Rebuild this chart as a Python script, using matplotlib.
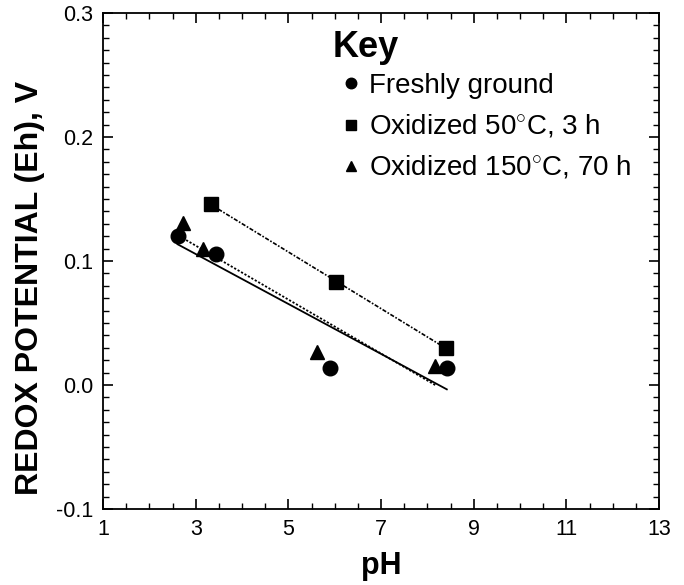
import numpy as np
import matplotlib
matplotlib.use("Agg")
import matplotlib.pyplot as plt
from matplotlib.ticker import MultipleLocator

plt.rcParams['font.family'] = ['Liberation Sans', 'DejaVu Sans']
plt.rcParams['mathtext.fontset'] = 'custom'
plt.rcParams['mathtext.rm'] = 'Liberation Sans'

# Data
fresh_ph = [2.61, 3.44, 5.90, 8.42]
fresh_eh = [0.120, 0.106, 0.014, 0.014]
ox50_ph = [3.32, 6.03, 8.40]
ox50_eh = [0.146, 0.083, 0.030]
ox150_ph = [2.72, 3.15, 5.62, 8.17]
ox150_eh = [0.131, 0.110, 0.027, 0.015]

labels = ["Freshly ground", r"Oxidized 50$^{\circ}$C, 3 h", r"Oxidized 150$^{\circ}$C, 70 h"]
xticks = [1, 3, 5, 7, 9, 11, 13]
yticks = [-0.1, 0.0, 0.1, 0.2, 0.3]

fig = plt.figure(figsize=(6.84, 5.85), dpi=100)
ax = fig.add_axes([0.1506, 0.1299, 0.8129, 0.8479])

def fit_line(xs, ys, style, lw):
    k, b = np.polyfit(xs, ys, 1)
    xx = np.array([min(xs), max(xs)])
    ax.plot(xx, k * xx + b, color='black', lw=lw, **style)

fit_line(fresh_ph, fresh_eh, dict(linestyle='-'), 1.3)
fit_line(ox150_ph, ox150_eh, dict(dashes=(1.2, 1.0)), 1.3)
fit_line(ox50_ph, ox50_eh, dict(dashes=(2.5, 1.0, 1, 1.0)), 1.2)

ax.plot(fresh_ph, fresh_eh, 'o', color='black', ms=10.5, ls='none', label=labels[0])
ax.plot(ox50_ph, ox50_eh, 's', color='black', ms=9.5, ls='none', label=labels[1])
ax.plot(ox150_ph, ox150_eh, '^', color='black', ms=10.5, ls='none', label=labels[2])

ax.set_xlim(1, 13)
ax.set_ylim(-0.1, 0.3)
ax.set_xticks(xticks)
ax.set_yticks(yticks)
ax.set_yticklabels([f"{v:.1f}" for v in yticks])
ax.xaxis.set_minor_locator(MultipleLocator(0.5))
ax.yaxis.set_minor_locator(MultipleLocator(0.01))
ax.tick_params(which='both', direction='in', top=True, right=True, labelsize=15.5, pad=7)
ax.tick_params(which='major', length=7, width=1.2)
ax.tick_params(which='minor', length=4, width=1.0)
for s in ax.spines.values():
    s.set_linewidth(1.3)

ax.set_xlabel("pH", fontsize=22, fontweight='bold', labelpad=8)
ax.set_ylabel("REDOX POTENTIAL (Eh), V", fontsize=23, fontweight='bold')
ax.yaxis.set_label_coords(-0.105, 0.446)

ax.text(0.4137, 0.9295, "Key", transform=ax.transAxes, ha='left', va='center',
        fontsize=26, fontweight='bold')
leg = ax.legend(loc='upper left', bbox_to_anchor=(0.3806, 0.929), frameon=False,
                fontsize=20, markerscale=0.72, handlelength=0.8, handletextpad=0.27,
                labelspacing=0.5)

fig.savefig("out.png", dpi=100)
